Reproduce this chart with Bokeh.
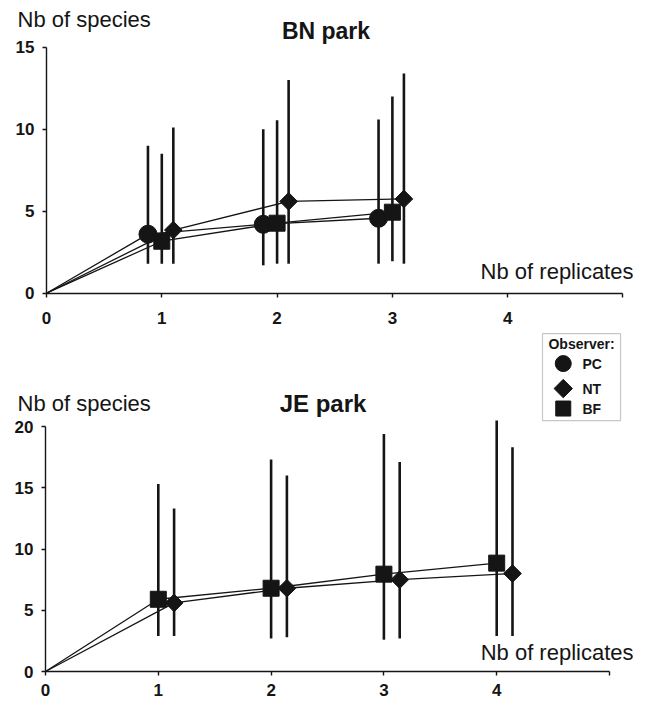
import numpy as np
from bokeh.plotting import figure
from bokeh.models import Range1d, FixedTicker, Label, BoxAnnotation
from bokeh.layouts import column
from bokeh.embed import file_html
from bokeh.resources import INLINE

# ---------------- data ----------------
observers = ["PC", "NT", "BF"]

# BN park
bn_replicates = [1, 2, 3]
bn_pc_mean = [3.6, 4.2, 4.57]
bn_pc_low = [1.8, 1.7, 1.8]
bn_pc_high = [9.0, 10.0, 10.6]
bn_nt_mean = [3.85, 5.6, 5.75]
bn_nt_low = [1.8, 1.8, 1.8]
bn_nt_high = [10.1, 13.0, 13.4]
bn_bf_mean = [3.17, 4.27, 4.94]
bn_bf_low = [1.8, 1.8, 1.95]
bn_bf_high = [8.5, 10.55, 12.0]

# JE park
je_replicates = [1, 2, 3, 4]
je_bf_mean = [5.9, 6.8, 7.95, 8.85]
je_bf_low = [2.9, 2.7, 2.6, 2.9]
je_bf_high = [15.3, 17.3, 19.4, 20.5]
je_nt_mean = [5.6, 6.8, 7.5, 8.0]
je_nt_low = [2.9, 2.8, 2.7, 2.9]
je_nt_high = [13.3, 16.0, 17.1, 18.3]

x_ticks = [0, 1, 2, 3, 4, 5]
bn_y_ticks = [0, 5, 10, 15]
je_y_ticks = [0, 5, 10, 15, 20]

# ---------------- style ----------------
INK = "#151515"
FONT = "Liberation Sans"


def make_fig(h, xr, yr):
    p = figure(frame_width=646, frame_height=h, min_border_left=0, min_border_right=0,
               min_border_top=0, min_border_bottom=0, title=None,
               x_range=Range1d(*xr), y_range=Range1d(*yr),
               toolbar_location=None, output_backend="svg")
    p.xgrid.visible = False
    p.ygrid.visible = False
    p.outline_line_color = None
    return p


def style_axes(p, yticks, x_standoff):
    p.xaxis.ticker = FixedTicker(ticks=x_ticks)
    p.xaxis.major_label_overrides = {5: ""}
    p.xaxis.bounds = (0, 5)
    p.xaxis.fixed_location = 0
    p.yaxis.ticker = FixedTicker(ticks=yticks)
    p.yaxis.bounds = (0, yticks[-1])
    p.yaxis.fixed_location = 0
    for ax in (p.xaxis, p.yaxis):
        ax.axis_line_color = INK
        ax.axis_line_width = 1.4
        ax.major_tick_line_color = INK
        ax.major_tick_line_width = 1.4
        ax.major_tick_in = 0
        ax.major_tick_out = 4
        ax.minor_tick_line_color = None
        ax.major_label_text_font = FONT
        ax.major_label_text_font_size = "17px"
        ax.major_label_text_font_style = "bold"
        ax.major_label_text_color = INK
    p.xaxis.major_label_standoff = x_standoff
    p.yaxis.major_label_standoff = 8


def add_series(p, reps, offset, mean, low, high, marker, size, angle=0.0):
    xs = [r + offset for r in reps]
    p.segment(x0=xs, y0=low, x1=xs, y1=high, line_color=INK, line_width=2.6)
    p.line(x=[0] + xs, y=[0] + mean, line_color=INK, line_width=1.3)
    p.scatter(x=xs, y=mean, marker=marker, size=size, angle=angle,
              fill_color=INK, line_color=INK)


def add_texts(p, y_lab, title, title_pos, title_size, xlab_pos):
    p.add_layout(Label(x=y_lab[0], y=y_lab[1], text="Nb of species",
                       text_font=FONT, text_font_size="22px", text_color=INK,
                       text_baseline="alphabetic"))
    p.add_layout(Label(x=title_pos[0], y=title_pos[1], text=title,
                       text_font=FONT, text_font_size=title_size, text_font_style="bold",
                       text_color=INK, text_align="center", text_baseline="alphabetic"))
    p.add_layout(Label(x=xlab_pos[0], y=xlab_pos[1], text="Nb of replicates",
                       text_font=FONT, text_font_size="22px", text_color=INK,
                       text_align="right", text_baseline="alphabetic"))


# ---------------- BN park ----------------
p1 = make_fig(330, (-0.399, 5.204), (-2.274, 17.85))
style_axes(p1, bn_y_ticks, 15)
add_series(p1, bn_replicates, -0.12, bn_pc_mean, bn_pc_low, bn_pc_high, "circle", 18)
add_series(p1, bn_replicates, 0.0, bn_bf_mean, bn_bf_low, bn_bf_high, "square", 16)
add_series(p1, bn_replicates, 0.10, bn_nt_mean, bn_nt_low, bn_nt_high, "square", 12.5, np.pi / 4)
add_texts(p1, (-0.2515, 16.69), "BN park", (2.424, 16.02), "23px", (5.091, 1.33))

# ---------------- JE park ----------------
p2 = make_fig(374, (-0.399, 5.328), (-2.69, 27.84))
style_axes(p2, je_y_ticks, 8)
add_series(p2, je_replicates, 0.0, je_bf_mean, je_bf_low, je_bf_high, "square", 16)
add_series(p2, je_replicates, 0.14, je_nt_mean, je_nt_low, je_nt_high, "square", 12.5, np.pi / 4)
add_texts(p2, (-0.248, 21.88), "JE park", (2.46, 21.88), "24px", (5.213, 1.55))

# legend (manual, in the JE panel's top right corner)
p2.add_layout(BoxAnnotation(left=4.406, right=5.098, top=27.59, bottom=20.49,
                            fill_color=None, line_color="#444444", line_width=1.2))
p2.add_layout(Label(x=4.752, y=26.7, text="Observer:", text_font=FONT,
                    text_font_size="14px", text_font_style="bold", text_color=INK,
                    text_align="center", text_baseline="alphabetic"))
leg_y = [25.14, 23.1, 21.47]
p2.scatter(x=[4.59], y=[leg_y[0]], marker="circle", size=16, fill_color=INK, line_color=INK)
p2.scatter(x=[4.59], y=[leg_y[1]], marker="square", size=13, angle=np.pi / 4,
           fill_color=INK, line_color=INK)
p2.scatter(x=[4.59], y=[leg_y[2]], marker="square", size=15, fill_color=INK, line_color=INK)
for name, ly in zip(observers, leg_y):
    p2.add_layout(Label(x=4.76, y=ly, text=name, text_font=FONT, text_font_size="14px",
                        text_font_style="bold", text_color=INK, text_baseline="middle"))

layout = column(p1, p2)
open("out.html", "w").write(file_html(layout, INLINE))
